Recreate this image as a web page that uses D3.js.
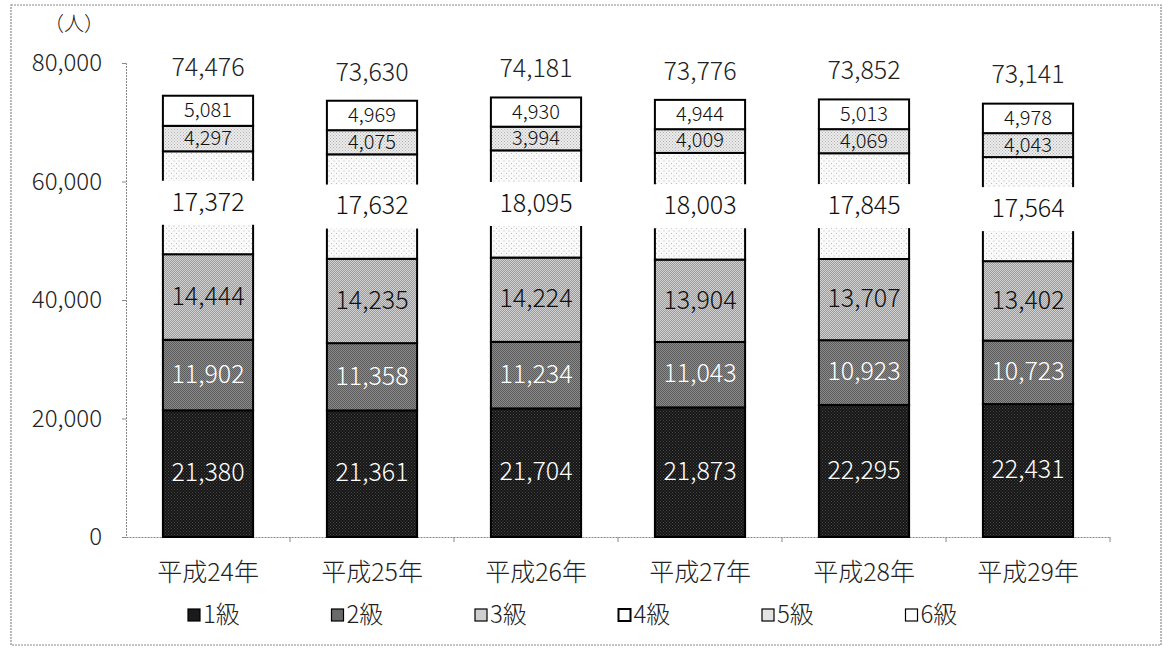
<!DOCTYPE html>
<html>
<head>
<meta charset="utf-8">
<script src="https://cdn.jsdelivr.net/npm/d3@7"></script>
<style>
  body { margin: 0; background: #fff; }
  text { font-family: "Noto Sans CJK JP", "Noto Sans", sans-serif; font-weight: 300; }
</style>
</head>
<body>
<svg id="chart" width="1163" height="648"></svg>
<script>
// data
const years = ["平成24年", "平成25年", "平成26年", "平成27年", "平成28年", "平成29年"];
const grades = ["1級", "2級", "3級", "4級", "5級", "6級"];
const grade1 = [21380, 21361, 21704, 21873, 22295, 22431];
const grade2 = [11902, 11358, 11234, 11043, 10923, 10723];
const grade3 = [14444, 14235, 14224, 13904, 13707, 13402];
const grade4 = [17372, 17632, 18095, 18003, 17845, 17564];
const grade5 = [4297, 4075, 3994, 4009, 4069, 4043];
const grade6 = [5081, 4969, 4930, 4944, 5013, 4978];
const yTicks = [0, 20000, 40000, 60000, 80000];

const series = [grade1, grade2, grade3, grade4, grade5, grade6];
const fills = ["url(#pat1)", "url(#pat2)", "url(#pat3)", "url(#pat4)", "url(#pat5)", "#ffffff"];
const legendFills = ["#1a1a1a", "#6a6a6a", "#cfcfcf", "#ffffff", "#e4e4e4", "#ffffff"];
const textColors = ["#fff", "#fff", "#111", "#111", "#111", "#111"];

const svg = d3.select("svg#chart");
const width = +svg.attr("width");
const height = +svg.attr("height");
const margins = {top: 63, right: 54, bottom: 111, left: 126};
const chartWidth = 1110 - margins.left;
const chartHeight = height - margins.top - margins.bottom;

// patterns to mimic the scanned texture
const defs = svg.append("defs");
function pattern(id, base, dot, step) {
  const p = defs.append("pattern").attr("id", id).attr("patternUnits", "userSpaceOnUse")
    .attr("width", step).attr("height", step);
  p.append("rect").attr("width", step).attr("height", step).attr("fill", base);
  p.append("rect").attr("width", 1).attr("height", 1).attr("fill", dot);
  p.append("rect").attr("x", step / 2).attr("y", step / 2).attr("width", 1).attr("height", 1).attr("fill", dot);
}
pattern("pat1", "#151515", "#4a4a4a", 3);
pattern("pat2", "#5c5c5c", "#8a8a8a", 2);
pattern("pat3", "#d2d2d2", "#9a9a9a", 2);
pattern("pat4", "#fafafa", "#bdbdbd", 5);
pattern("pat5", "#ececec", "#b0b0b0", 3);

// outer frame
svg.append("rect").attr("x", 11).attr("y", 5).attr("width", 1150).attr("height", 640)
  .attr("fill", "none").attr("stroke", "#8a8a8a").attr("stroke-width", 1.2).attr("stroke-dasharray", "2,1");

const chart = svg.append("g").attr("transform", `translate(${margins.left},${margins.top})`);

const x = d3.scaleBand().domain(years).range([0, chartWidth]).paddingInner(0.45).paddingOuter(0.225);
const xTick = d3.scaleBand().domain(years).range([0, chartWidth]);
const y = d3.scaleLinear().domain([0, 80000]).range([chartHeight, 0]);

// axes
const leftAxis = d3.axisLeft(y).tickValues(yTicks).tickSize(4).tickPadding(20)
  .tickFormat(d3.format(","));
const gy = chart.append("g").call(leftAxis);
gy.select(".domain").attr("stroke", "#888").attr("stroke-dasharray", "2,1");
gy.selectAll(".tick line").attr("stroke", "#888");
gy.selectAll("text").style("font-size", "24px").attr("fill", "#222");

const bottomAxis = d3.axisBottom(xTick).tickSize(0).tickPadding(26);
const gx = chart.append("g").attr("transform", `translate(0,${chartHeight})`).call(bottomAxis);
gx.select(".domain").attr("stroke", "#888").attr("stroke-dasharray", "2,1");
gx.selectAll("text").style("font-size", "25px").attr("fill", "#222");
// boundary ticks between categories
chart.append("g").selectAll("line").data(years)
  .enter().append("line")
  .attr("x1", d => xTick(d) + xTick.bandwidth())
  .attr("x2", d => xTick(d) + xTick.bandwidth())
  .attr("y1", chartHeight).attr("y2", chartHeight + 5)
  .attr("stroke", "#888");

svg.append("text").text("（人）").attr("x", 74).attr("y", 26)
  .attr("text-anchor", "middle").attr("dominant-baseline", "middle")
  .style("font-size", "20px").attr("fill", "#222");

// stacked data
const table = years.map((yr, i) => {
  const row = {year: yr};
  grades.forEach((g, k) => row[g] = series[k][i]);
  return row;
});
const stacked = d3.stack().keys(grades)(table);

const layers = chart.selectAll("g.layer").data(stacked).enter()
  .append("g").attr("class", "layer");

layers.selectAll("rect").data((d, k) => d.map(v => ({v: v, k: k})))
  .enter().append("rect")
  .attr("x", d => x(d.v.data.year))
  .attr("y", d => y(d.v[1]))
  .attr("width", x.bandwidth())
  .attr("height", d => y(d.v[0]) - y(d.v[1]))
  .attr("fill", d => fills[d.k])
  .attr("stroke", "#000")
  .attr("stroke-width", 2);

// value labels in segments
stacked.forEach((layer, k) => {
  layer.forEach(v => {
    const cx = x(v.data.year) + x.bandwidth() / 2;
    const cy = y((v[0] + v[1]) / 2);
    if (k === 3) {
      chart.append("rect")
        .attr("x", cx - x.bandwidth() / 2 - 4).attr("y", cy - 22)
        .attr("width", x.bandwidth() + 8).attr("height", 44)
        .attr("fill", "#fff");
    }
    chart.append("text")
      .text(d3.format(",")(v[1] - v[0]))
      .attr("x", cx).attr("y", cy + 1)
      .attr("text-anchor", "middle").attr("dominant-baseline", "middle")
      .style("font-size", k >= 4 ? "20px" : "25px")
      .attr("fill", textColors[k]);
  });
});

// totals
chart.selectAll("text.total").data(table).enter().append("text")
  .attr("class", "total")
  .text(d => d3.format(",")(d3.sum(grades, g => d[g])))
  .attr("x", d => x(d.year) + x.bandwidth() / 2)
  .attr("y", d => y(d3.sum(grades, g => d[g])) - 27)
  .attr("text-anchor", "middle").attr("dominant-baseline", "middle")
  .style("font-size", "25px").attr("fill", "#222");

// legend
const legend = svg.append("g").attr("transform", "translate(188,615)");
const item = legend.selectAll("g").data(grades).enter().append("g")
  .attr("transform", (d, i) => `translate(${i * 143.5},0)`);
item.append("rect").attr("x", 0).attr("y", -6).attr("width", 12).attr("height", 12)
  .attr("fill", (d, i) => legendFills[i]).attr("stroke", "#000").attr("stroke-width", (d, i) => i === 3 ? 2 : 1.2);
item.append("text").text(d => d).attr("x", 15).attr("y", 1)
  .attr("dominant-baseline", "middle").style("font-size", "24px").attr("fill", "#222");
</script>
</body>
</html>
